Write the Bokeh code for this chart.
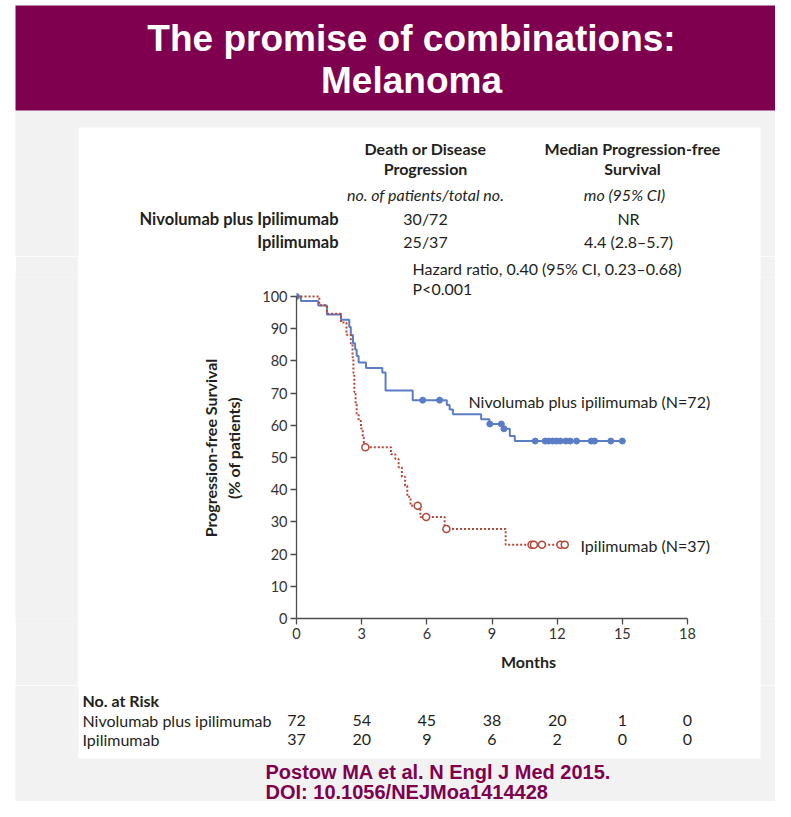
from bokeh.plotting import figure
from bokeh.layouts import column, row
from bokeh.models import Label, FixedTicker, Range1d, Title
from bokeh.embed import file_html
from bokeh.resources import INLINE

# ---------------- data ----------------
month_ticks = [0, 3, 6, 9, 12, 15, 18]
pct_ticks = [0, 10, 20, 30, 40, 50, 60, 70, 80, 90, 100]

# Nivolumab plus ipilimumab: step times (months) and survival (%)
nivo_t = [0, 0.2, 1.0, 1.4, 2.05, 2.43, 2.5, 2.6, 2.7, 2.77, 2.86, 3.2, 3.95, 4.1,
          5.35, 6.92, 7.05, 7.2, 8.5, 8.88, 9.5, 9.82, 10.05, 15.0]
nivo_s = [100, 98.6, 97.2, 94.4, 92.8, 90.5, 88.0, 85.5, 83.5, 81.5, 79.5, 77.8, 76.4, 70.8,
          67.8, 66.3, 64.9, 63.4, 61.9, 60.4, 58.9, 56.7, 55.1, 55.1]
nivo_cens_t = [0, 5.81, 6.59, 8.9, 9.43, 9.55, 10.99, 11.45, 11.6, 11.79, 11.97, 12.14,
               12.4, 12.6, 12.89, 13.57, 13.72, 14.47, 15.0]
nivo_cens_s = [100, 67.8, 67.8, 60.4, 60.4, 58.9, 55.1, 55.1, 55.1, 55.1, 55.1, 55.1,
               55.1, 55.1, 55.1, 55.1, 55.1, 55.1, 55.1]

# Ipilimumab
ipi_t = [0, 1.05, 1.4, 2.05, 2.3, 2.5, 2.58, 2.62, 2.66, 2.72, 2.77, 2.86, 2.97, 3.05, 3.1,
         4.35, 4.55, 4.7, 4.85, 5.0, 5.1, 5.25, 5.7, 6.82, 9.63, 12.4]
ipi_s = [100, 97.3, 94.6, 91.9, 88.1, 85.4, 81.1, 76.3, 70.3, 66.5, 63.4, 61.3, 59.0, 56.2, 53.2,
         51.0, 49.5, 47.0, 44.0, 41.2, 37.8, 35.0, 31.5, 27.8, 22.9, 22.9]
ipi_cens_t = [3.17, 5.58, 5.97, 6.9, 10.82, 10.93, 11.3, 12.15, 12.35]
ipi_cens_s = [53.2, 35.0, 31.5, 27.8, 22.9, 22.9, 22.9, 22.9, 22.9]

risk_nivo = [72, 54, 45, 38, 20, 1, 0]
risk_ipi = [37, 20, 9, 6, 2, 0, 0]
risk_groups = ["Nivolumab plus ipilimumab", "Ipilimumab"]

table_groups = ["Nivolumab plus Ipilimumab", "Ipilimumab"]
table_events = ["30/72", "25/37"]
table_median = ["NR", "4.4 (2.8\u20135.7)"]

# ---------------- style / layout ----------------
MAROON = "#7f004e"
GRAY = "#f2f2f2"
BLUE = "#5a7dc6"
RED = "#b7473b"
TXT = "#231f20"
FONT = "Lato"
TFONT = "Liberation Sans"

W, H = 775, 801
X0, Y0 = 296, 618              # pixel of month 0 / 0 %
PXM = (687 - 296) / 18.0       # px per month
PXP = (618 - 295) / 100.0      # px per percent
TOP_H = 256                    # top panel height
KM_TOP_B = 20                  # border above the plot frame (holds hazard-ratio line)
FRAME_T = TOP_H + KM_TOP_B
MID_B = 685                    # bottom of middle row
PANEL_L, PANEL_R, PANEL_T, PANEL_B = 78, 760, 127, 758
MID_H = MID_B - TOP_H
BOT_H = H - MID_B


def base_fig(w, h, xr, yr, color="white"):
    f = figure(width=w, height=h, x_range=xr, y_range=yr, output_backend="svg",
               toolbar_location=None, min_border=0, title=None, outline_line_color=None,
               border_fill_color=color, background_fill_color=color,
               x_axis_location=None, y_axis_location=None)
    f.grid.visible = False
    return f


def add_label(f, text, x, y, size=16, style="normal", align="left", color=TXT, font=FONT):
    f.add_layout(Label(x=x, y=y, text=text, text_font=font, text_font_size=f"{size}px",
                       text_font_style=style, text_align=align, text_baseline="middle",
                       text_color=color))


# ---------------- top panel: banner + header table ----------------
top = base_fig(W, TOP_H, Range1d(0, W), Range1d(TOP_H, 0))
top.quad(left=[15], right=[W], top=[110], bottom=[TOP_H], fill_color=GRAY, line_color=None)
top.quad(left=[15], right=[W], top=[5], bottom=[110], fill_color=MAROON, line_color=None)
top.quad(left=[PANEL_L], right=[PANEL_R], top=[PANEL_T], bottom=[TOP_H],
         fill_color="white", line_color=None)
add_label(top, "The promise of combinations:", 411, 38, size=37, style="bold",
          align="center", color="white", font=TFONT)
add_label(top, "Melanoma", 411, 80, size=37, style="bold", align="center", color="white",
          font=TFONT)
add_label(top, "Death or Disease", 425, 148, style="bold", align="center")
add_label(top, "Progression", 425, 168, style="bold", align="center")
add_label(top, "Median Progression-free", 632, 148, style="bold", align="center")
add_label(top, "Survival", 632, 168, style="bold", align="center")
add_label(top, "no. of patients/total no.", 425, 194, style="italic", align="center")
add_label(top, "mo (95% CI)", 624, 194, style="italic", align="center")
for i, (g, e, m) in enumerate(zip(table_groups, table_events, table_median)):
    yy = 218 + 23 * i
    add_label(top, g, 338, yy, size=16.5, style="bold", align="right")
    add_label(top, e, 425, yy, align="center")
    add_label(top, m, 628, yy, align="center")

# ---------------- middle row ----------------
strip_white = base_fig(15, MID_H, Range1d(0, 1), Range1d(0, 1), color="white")
strip_left = base_fig(PANEL_L - 15, MID_H, Range1d(0, 1), Range1d(0, 1), color=GRAY)
strip_right = base_fig(W - PANEL_R, MID_H, Range1d(0, 1), Range1d(0, 1), color=GRAY)

km = figure(width=PANEL_R - PANEL_L, height=MID_H,
            x_range=Range1d(0, (PANEL_R - X0) / PXM),
            y_range=Range1d(0, (Y0 - FRAME_T) / PXP),
            output_backend="svg", toolbar_location=None, title=None,
            min_border_left=X0 - PANEL_L, min_border_right=0, min_border_top=KM_TOP_B,
            min_border_bottom=MID_B - Y0,
            border_fill_color="white", background_fill_color="white",
            outline_line_color=None)
km.grid.visible = False
km.add_layout(Title(text="Hazard ratio, 0.40 (95% CI, 0.23\u20130.68)", align="left",
                    offset=412 - X0, standoff=0, text_font=FONT, text_font_size="16px",
                    text_font_style="normal", text_color=TXT), "above")
for ax in (km.xaxis, km.yaxis):
    ax.axis_line_color = "#4d4d4d"
    ax.axis_line_width = 1.3
    ax.major_tick_line_color = "#4d4d4d"
    ax.major_tick_line_width = 1.3
    ax.major_tick_out = 6
    ax.major_tick_in = 0
    ax.minor_tick_line_color = None
    ax.major_label_text_font = FONT
    ax.major_label_text_font_size = "14.5px"
    ax.major_label_text_color = "#333333"
    ax.major_label_standoff = 3
    ax.axis_label_text_font = FONT
    ax.axis_label_text_font_style = "bold"
    ax.axis_label_text_font_size = "16px"
    ax.axis_label_text_color = TXT
km.xaxis.ticker = FixedTicker(ticks=month_ticks)
km.yaxis.ticker = FixedTicker(ticks=pct_ticks)
km.xaxis.bounds = (0, 18)
km.yaxis.bounds = (0, 100)
km.xaxis.axis_label = "Months"
km.xaxis.axis_label_standoff = 10
km.yaxis.axis_label = "Progression-free Survival\n(% of patients)"
km.yaxis.axis_label_standoff = 16

km.step(nivo_t, nivo_s, mode="after", line_color=BLUE, line_width=2)
km.scatter(nivo_cens_t, nivo_cens_s, size=6, fill_color=BLUE, line_color=BLUE)
km.step(ipi_t, ipi_s, mode="after", line_color=RED, line_width=2, line_dash="2 2")
km.scatter(ipi_cens_t, ipi_cens_s, size=7, fill_color="white", line_color=RED, line_width=1.5)


def kx(px):
    return (px - X0) / PXM


def ky(py):
    return (Y0 - py) / PXP


add_label(km, "P<0.001", kx(412), ky(287))
add_label(km, "Nivolumab plus ipilimumab (N=72)", kx(468), ky(400))
add_label(km, "Ipilimumab (N=37)", kx(580), ky(545))

# ---------------- bottom panel: number at risk + citation ----------------
bot = base_fig(W, BOT_H, Range1d(kx(0), kx(W)), Range1d(H, MID_B))
bot.quad(left=[kx(15)], right=[kx(W)], top=[MID_B], bottom=[H], fill_color=GRAY,
         line_color=None)
bot.quad(left=[kx(PANEL_L)], right=[kx(PANEL_R)], top=[MID_B], bottom=[PANEL_B],
         fill_color="white", line_color=None)
add_label(bot, "No. at Risk", kx(82), 700, style="bold")
for i, (g, vals) in enumerate(zip(risk_groups, [risk_nivo, risk_ipi])):
    yy = 720 + 19 * i
    add_label(bot, g, kx(82), yy)
    for m, v in zip(month_ticks, vals):
        add_label(bot, str(v), m, yy, align="center")
add_label(bot, "Postow MA et al. N Engl J Med 2015.", kx(265), 771, size=20, style="bold",
          color=MAROON, font=TFONT)
add_label(bot, "DOI: 10.1056/NEJMoa1414428", kx(265), 791, size=20, style="bold",
          color=MAROON, font=TFONT)

layout = column(top, row(strip_white, strip_left, km, strip_right), bot)
open("out.html", "w").write(file_html(layout, INLINE))
